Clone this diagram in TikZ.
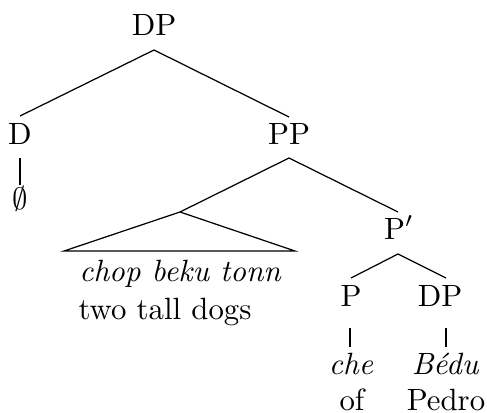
\documentclass[tikz,border=0pt]{standalone}
\begin{document}
\begin{tikzpicture}[x=0.325pt,y=-0.325pt,
  lab/.style={anchor=base,inner sep=0pt,font=\fontsize{10}{12}\selectfont},
  edge/.style={line width=0.4pt}]
\useasboundingbox (0,0) rectangle (487,413);
% nodes
\node[lab] (DP) at (154,36) {DP};
\node[lab] (D) at (20,145) {D};
\node[lab] (PP) at (289,145) {PP};
\node[lab] (null) at (20,210) {$\emptyset$};
\node[lab] (chop) at (180,281) {\itshape chop beku tonn};
\node[lab] (dogs) at (165,319) {two tall dogs};
\node[lab] (Pbar) at (399,239) {P$'$};
\node[lab] (P) at (351,306) {P};
\node[lab] (DPb) at (440,306) {DP};
\node[lab] (che) at (351,374) {\itshape che};
\node[lab] (bedu) at (445,374) {\itshape B\'edu};
\node[lab] (of) at (352,410) {of};
\node[lab] (pedro) at (446,410) {Pedro};
% edge ends
\coordinate (DPs) at (154,50);
\coordinate (Dn) at (20,116);
\coordinate (PPn) at (289,117);
\coordinate (Ds) at (20,158);
\coordinate (nulln) at (20,185);
\coordinate (PPs) at (289,158);
\coordinate (apex) at (180,212);
\coordinate (triL) at (64,251);
\coordinate (triR) at (295,251);
\coordinate (Pbarn) at (398,212);
\coordinate (Pbars) at (398,254);
\coordinate (Pn) at (351,278);
\coordinate (DPbn) at (446,278);
\coordinate (Ps) at (350,328);
\coordinate (chen) at (350,347);
\coordinate (DPbs) at (446,328);
\coordinate (bedun) at (446,347);
% edges
\draw[edge] (Dn) -- (DPs) -- (PPn);
\draw[edge] (Ds) -- (nulln);
\draw[edge] (apex) -- (PPs) -- (Pbarn);
\draw[edge] (apex) -- (triL) -- (triR) -- cycle;
\draw[edge] (Pn) -- (Pbars) -- (DPbn);
\draw[edge] (Ps) -- (chen);
\draw[edge] (DPbs) -- (bedun);
\end{tikzpicture}
\end{document}
